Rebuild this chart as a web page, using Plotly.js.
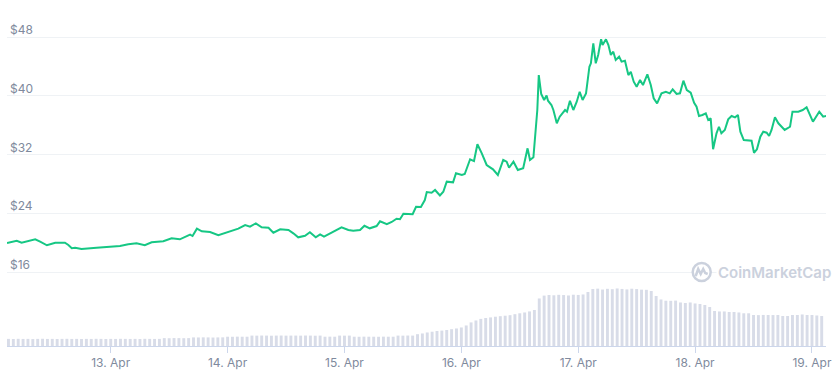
<!DOCTYPE html>
<html>
<head>
<meta charset="utf-8">
<script src="https://cdn.plot.ly/plotly-3.0.1.min.js"></script>
<style>
  html, body { margin: 0; padding: 0; background: #fff; }
  #chart { width: 838px; height: 375px; }
</style>
</head>
<body>
<div id="chart"></div>
<script>
// ---- Data ----
// Price samples: hours relative to 13 Apr 2021 00:00, and price in USD
const priceHours = [
  -21.3,-19.3,-18.3,-17.2,-15.5,-14.5,-13.1,-11.4,-9.4,-8.7,-8.0,-7.3,-6.0,-2.9,-0.1,1.9,3.6,5.3,7.0,8.4,10.8,12.5,14.2,15.3,16.3,16.8,
  17.7,18.7,20.4,22.1,23.8,25.2,26.2,27.6,28.6,29.8,31.0,32.4,33.4,34.8,36.5,37.5,38.5,39.9,40.9,42.1,43.0,43.8,45.0,46.4,47.4,48.8,
  49.8,51.2,52.1,53.2,54.6,55.3,56.7,57.7,58.7,59.4,60.1,61.1,62.0,62.7,63.7,64.5,64.9,65.9,66.6,67.6,68.3,69.0,70.3,70.9,72.1,72.7,
  73.8,74.6,75.3,76.2,77.2,78.5,79.5,80.6,81.3,81.8,82.7,83.6,84.7,85.6,86.1,86.8,87.3,87.6,87.9,88.4,89.0,89.5,89.8,90.5,90.9,91.6,
  92.2,93.3,93.7,94.3,95.0,95.7,96.3,96.9,97.6,98.3,98.6,99.1,99.6,100.1,100.7,101.0,101.7,102.2,102.7,103.2,103.7,104.4,104.9,105.6,106.3,106.8,
  107.4,108.0,108.7,109.3,110.2,110.9,111.5,112.2,113.1,114.0,114.8,115.4,116.2,116.9,117.6,118.3,119.1,119.8,120.3,120.8,121.5,122.2,122.7,123.2,123.7,124.4,
  124.9,125.4,126.1,126.8,127.5,128.2,128.8,129.3,130.0,130.9,131.6,132.1,132.7,133.4,134.0,134.7,135.2,135.7,136.4,137.1,138.4,139.5,140.0,141.2,142.1,142.9,
  143.4,144.2,145.5,146.3,146.9
];
const priceValues = [
  19.95,20.26,19.99,20.13,20.45,20.13,19.64,19.99,19.99,19.68,19.23,19.31,19.13,19.31,19.45,19.54,19.77,19.91,19.64,20.04,20.18,20.59,20.45,20.81,21.08,20.90,
  21.90,21.54,21.45,21.00,21.35,21.62,21.90,22.40,22.17,22.63,22.09,22.03,21.35,21.81,21.72,21.27,20.72,20.94,21.41,20.72,21.13,20.81,21.27,21.72,22.09,21.72,
  21.62,21.72,22.30,21.95,22.26,22.90,22.50,22.81,23.26,23.18,23.94,23.90,23.86,24.89,24.85,25.80,26.89,26.80,27.17,26.42,26.93,28.30,28.21,29.44,29.21,29.34,
  31.35,31.11,33.39,32.16,30.57,29.98,29.21,31.25,31.02,30.20,31.02,29.89,30.12,32.84,31.25,31.62,35.34,38.06,42.82,40.24,39.42,40.03,39.32,38.74,38.06,36.25,
  37.15,38.06,37.83,39.32,38.06,39.19,40.55,39.42,40.33,43.95,44.42,47.14,44.42,45.55,47.69,46.91,47.69,46.91,45.55,46.00,44.87,45.32,44.64,44.77,42.82,43.27,
  41.91,41.23,42.14,41.46,42.92,41.46,39.65,38.97,40.33,40.55,40.33,40.88,40.24,40.33,42.05,40.78,40.41,39.05,38.51,37.24,37.38,37.61,36.70,36.93,32.71,34.89,
  35.78,34.89,35.34,36.79,37.24,37.06,37.38,35.10,33.97,33.97,33.88,32.24,32.71,34.42,35.10,34.97,34.52,35.34,37.06,36.25,35.34,35.78,37.83,37.83,38.06,38.43,
  37.61,36.47,37.83,37.15,37.24
];

// Hourly volume (USD millions), first bar at 12 Apr 2021 03:00
const volumeStart = '2021-04-12T03:00:00Z';
const volumeValues = [
  121,119,122,120,121,118,121,123,120,121,119,121,122,120,121,119,121,120,122,121,119,121,120,122,121,120,121,119,122,121,120,121,
  134,132,135,134,133,134,
  146,145,147,146,144,146,147,
  158,157,159,158,158,
  177,176,178,177,175,177,178,176,177,177,176,178,177,175,177,
  158,159,158,
  177,176,177,
  158,157,159,158,158,157,159,158,158,
  177,176,178,177,
  201,213,230,243,255,262,272,286,298,315,349,401,434,461,476,486,498,507,515,524,541,556,570,588,612,
  808,857,
  867,862,870,866,859,872,868,876,
  918,
  969,975,960,972,966,978,970,962,974,968,958,955,
  935,850,791,
  770,768,772,
  740,731,740,723,714,
  697,663,
  595,587,587,578,578,570,
  556,556,
  527,525,528,527,526,527,
  510,510,
  527,527,536,527,527,
  519,510
];

const priceTicks = [16, 24, 32, 40, 48];
const priceTickText = ['$16', '$24', '$32', '$40', '$48'];

// ---- Build traces ----
const base = Date.UTC(2021, 3, 13, 0, 0, 0);
function fmt(ms) { return new Date(ms).toISOString().slice(0, 19).replace('T', ' '); }
const priceTimes = priceHours.map(h => fmt(base + h * 3600000));
const v0 = Date.parse(volumeStart);
const volumeTimes = volumeValues.map((_, i) => fmt(v0 + i * 3600000));

const volTrace = {
  type: 'bar', x: volumeTimes, y: volumeValues, yaxis: 'y2',
  marker: { color: '#d8dce8', line: { width: 0 } },
  hoverinfo: 'skip'
};
const priceTrace = {
  type: 'scatter', mode: 'lines', x: priceTimes, y: priceValues,
  line: { color: '#16c784', width: 2 },
  hoverinfo: 'skip'
};

// plot area: x 7..826, y 20..346
const lx = (701.7 - 7) / 819, ly = (346 - 272) / 326;

const layout = {
  width: 838, height: 375,
  margin: { l: 7, r: 12, t: 20, b: 29 },
  paper_bgcolor: '#fff', plot_bgcolor: '#fff',
  showlegend: false,
  bargap: 0.4,
  font: { family: 'Inter, "Open Sans", sans-serif', color: '#808a9d', size: 12 },
  xaxis: {
    type: 'date',
    range: ['2021-04-12 02:42', '2021-04-19 02:53'],
    tick0: '2021-04-13', dtick: 86400000,
    tickformat: '%-d. %b',
    ticks: 'outside', ticklen: 6, tickcolor: '#ccd6eb', tickwidth: 1,
    showline: true, linecolor: '#ccd6eb', linewidth: 1,
    showgrid: false, zeroline: false,
    tickfont: { size: 12, color: '#808a9d' }
  },
  yaxis: {
    range: [5.924, 50.315],
    tickvals: priceTicks, ticktext: priceTickText,
    ticklabelposition: 'inside',
    ticklabelshift: -7,
    ticklabelstandoff: 0,
    showgrid: true, gridcolor: '#eff2f5', gridwidth: 1,
    zeroline: false, showline: false, ticks: '',
    tickfont: { size: 12, color: '#808a9d' }
  },
  yaxis2: {
    overlaying: 'y', range: [0, 5542], visible: false, showgrid: false, zeroline: false
  },
  shapes: [
    {
      type: 'circle', xref: 'paper', yref: 'paper',
      xsizemode: 'pixel', ysizemode: 'pixel', xanchor: lx, yanchor: ly,
      x0: -9, x1: 9, y0: -9, y1: 9,
      line: { color: '#cbd1dd', width: 2.5 }, fillcolor: '#ffffff', layer: 'above'
    },
    {
      type: 'path', xref: 'paper', yref: 'paper',
      xsizemode: 'pixel', ysizemode: 'pixel', xanchor: lx, yanchor: ly,
      path: 'M -6 -4 L -3.5 3 L -1 -2 L 1.5 3 L 3.5 -1 L 6 -2',
      line: { color: '#cbd1dd', width: 2.5 }, layer: 'above'
    }
  ],
  annotations: [
    {
      xref: 'paper', yref: 'paper', x: (716 - 7) / 819, y: ly,
      xanchor: 'left', yanchor: 'middle', showarrow: false,
      text: 'CoinMarketCap', bgcolor: '#ffffff', borderpad: 1,
      font: { family: 'Inter, "Open Sans", sans-serif', size: 15, color: '#cbd1dd', weight: 600 }
    }
  ]
};

Plotly.newPlot('chart', [volTrace, priceTrace], layout, { staticPlot: true, displayModeBar: false });
</script>
</body>
</html>
